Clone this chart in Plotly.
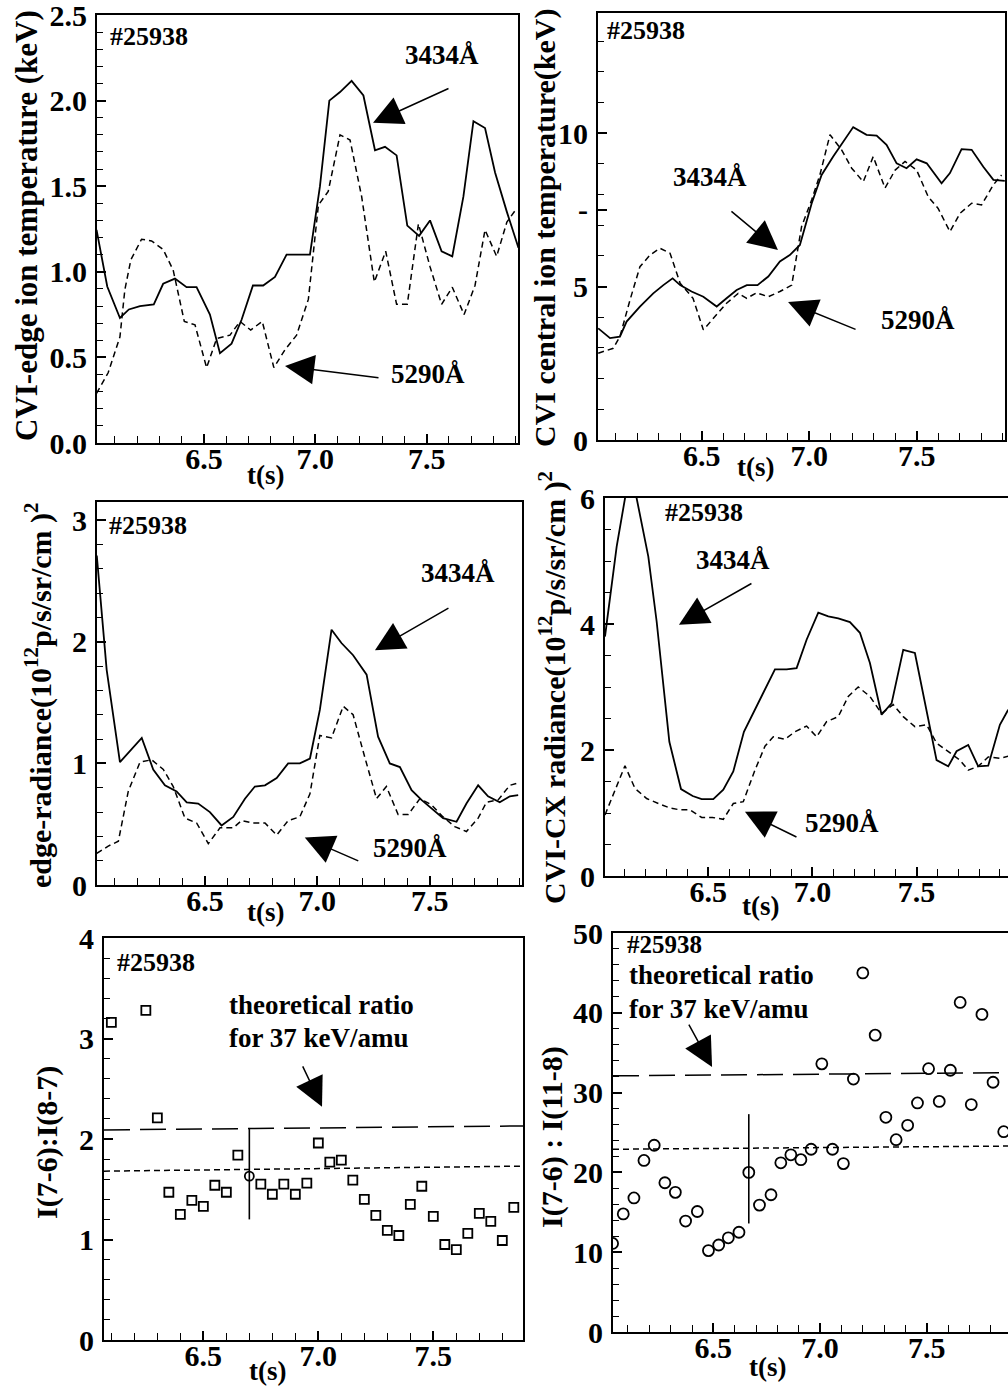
import plotly.graph_objects as go

W, H = 1008, 1386
FONT = "Liberation Serif"

# ---------------- DATA ----------------
# Panel 1: CVI-edge ion temperature (keV)
p1_t_solid = [6.018, 6.066, 6.123, 6.163, 6.213, 6.275, 6.317, 6.37, 6.422, 6.467, 6.527, 6.572, 6.624, 6.669,
              6.72, 6.766, 6.819, 6.871, 6.924, 6.976, 7.021, 7.063, 7.111, 7.163, 7.216, 7.268, 7.313, 7.365,
              7.413, 7.466, 7.515, 7.567, 7.615, 7.665, 7.71, 7.762, 7.807, 7.86, 7.912]
p1_solid = [1.245, 0.914, 0.73, 0.78, 0.80, 0.81, 0.93, 0.96, 0.91, 0.91, 0.75, 0.525, 0.58, 0.72,
            0.92, 0.92, 0.97, 1.10, 1.10, 1.10, 1.50, 2.00, 2.05, 2.115, 2.03, 1.71, 1.73, 1.68,
            1.27, 1.21, 1.30, 1.12, 1.09, 1.44, 1.88, 1.84, 1.58, 1.35, 1.14]
p1_t_dash = [6.018, 6.07, 6.123, 6.145, 6.172, 6.22, 6.265, 6.317, 6.362, 6.412, 6.46, 6.512, 6.557, 6.617,
             6.662, 6.71, 6.762, 6.814, 6.864, 6.916, 6.969, 7.014, 7.058, 7.111, 7.156, 7.208, 7.265, 7.316,
             7.365, 7.413, 7.463, 7.515, 7.567, 7.615, 7.668, 7.717, 7.762, 7.814, 7.86, 7.904]
p1_dash = [0.29, 0.41, 0.62, 0.895, 1.07, 1.19, 1.18, 1.13, 1.01, 0.71, 0.69, 0.44, 0.61, 0.63,
           0.71, 0.66, 0.71, 0.44, 0.545, 0.63, 0.84, 1.39, 1.47, 1.80, 1.77, 1.44, 0.94, 1.12,
           0.81, 0.81, 1.28, 1.03, 0.81, 0.91, 0.75, 0.92, 1.245, 1.09, 1.29, 1.37]

# Panel 2: CVI central ion temperature (keV)
p2_t_solid = [6.019, 6.074, 6.12, 6.151, 6.213, 6.275, 6.322, 6.365, 6.40, 6.453, 6.508, 6.57, 6.616, 6.663,
              6.71, 6.76, 6.81, 6.864, 6.91, 6.957, 7.012, 7.058, 7.112, 7.159, 7.205, 7.267, 7.314, 7.36,
              7.407, 7.453, 7.50, 7.547, 7.616, 7.655, 7.709, 7.756, 7.81, 7.857, 7.91]
p2_solid = [3.64, 3.32, 3.37, 3.86, 4.35, 4.78, 5.05, 5.27, 5.05, 4.84, 4.67, 4.35, 4.62, 4.89,
            5.05, 5.05, 5.33, 5.82, 6.03, 6.36, 7.72, 8.64, 9.24, 9.73, 10.2, 9.95, 9.92, 9.62,
            9.02, 8.86, 9.15, 9.02, 8.37, 8.70, 9.48, 9.46, 8.91, 8.48, 8.45]
p2_t_dash = [6.019, 6.089, 6.12, 6.167, 6.213, 6.26, 6.306, 6.353, 6.40, 6.46, 6.508, 6.554, 6.616, 6.67,
             6.71, 6.756, 6.81, 6.864, 6.919, 6.965, 7.012, 7.05, 7.097, 7.151, 7.198, 7.252, 7.298, 7.353,
             7.40, 7.446, 7.50, 7.554, 7.60, 7.655, 7.702, 7.756, 7.802, 7.857, 7.895]
p2_dash = [2.83, 2.99, 3.37, 4.57, 5.65, 6.03, 6.25, 6.09, 5.11, 4.62, 3.59, 3.97, 4.46, 4.78,
           4.62, 4.80, 4.67, 4.84, 5.05, 6.96, 7.83, 8.64, 9.95, 9.46, 8.86, 8.42, 9.24, 8.21,
           8.80, 9.08, 8.80, 7.93, 7.55, 6.79, 7.39, 7.72, 7.66, 8.32, 8.64]

# Panel 3: edge radiance
p3_t_solid = [6.019, 6.063, 6.122, 6.174, 6.219, 6.27, 6.322, 6.374, 6.419, 6.47, 6.522, 6.574, 6.626, 6.678,
              6.722, 6.767, 6.819, 6.87, 6.922, 6.967, 7.011, 7.063, 7.107, 7.159, 7.219, 7.27, 7.322, 7.367,
              7.419, 7.463, 7.515, 7.559, 7.619, 7.663, 7.715, 7.759, 7.811, 7.856, 7.893]
p3_solid = [2.71, 1.77, 1.01, 1.12, 1.21, 0.95, 0.82, 0.77, 0.68, 0.67, 0.60, 0.49, 0.56, 0.71,
            0.81, 0.82, 0.88, 1.00, 1.00, 1.04, 1.44, 2.10, 1.99, 1.89, 1.73, 1.22, 1.00, 0.97,
            0.78, 0.70, 0.62, 0.55, 0.52, 0.67, 0.82, 0.73, 0.68, 0.73, 0.74]
p3_t_dash = [6.019, 6.07, 6.115, 6.159, 6.211, 6.263, 6.315, 6.359, 6.411, 6.463, 6.515, 6.567, 6.626, 6.663,
             6.715, 6.767, 6.819, 6.87, 6.922, 6.967, 7.011, 7.063, 7.115, 7.159, 7.211, 7.263, 7.307, 7.359,
             7.404, 7.456, 7.507, 7.559, 7.611, 7.663, 7.715, 7.752, 7.804, 7.856, 7.893]
p3_dash = [0.26, 0.32, 0.36, 0.77, 1.01, 1.03, 0.95, 0.81, 0.55, 0.51, 0.34, 0.47, 0.47, 0.53,
           0.51, 0.51, 0.41, 0.53, 0.56, 0.75, 1.23, 1.21, 1.47, 1.40, 1.05, 0.71, 0.81, 0.58,
           0.58, 0.71, 0.66, 0.56, 0.48, 0.44, 0.55, 0.68, 0.70, 0.82, 0.84]

# Panel 4: CVI-CX radiance
p4_t_solid = [6.004, 6.06, 6.126, 6.212, 6.252, 6.313, 6.369, 6.425, 6.468, 6.524, 6.572, 6.62, 6.671, 6.724,
              6.772, 6.82, 6.876, 6.924, 6.972, 7.028, 7.076, 7.124, 7.18, 7.228, 7.276, 7.332, 7.38, 7.436,
              7.492, 7.54, 7.596, 7.652, 7.692, 7.748, 7.796, 7.844, 7.90, 7.94]
p4_solid = [3.80, 5.23, 6.49, 5.07, 4.04, 2.13, 1.38, 1.27, 1.22, 1.22, 1.37, 1.66, 2.29, 2.64,
            2.96, 3.28, 3.28, 3.30, 3.75, 4.18, 4.12, 4.09, 4.03, 3.86, 3.38, 2.56, 2.74, 3.59,
            3.54, 2.74, 1.84, 1.74, 1.98, 2.08, 1.74, 1.75, 2.40, 2.64]
p4_t_dash = [6.004, 6.052, 6.10, 6.148, 6.204, 6.26, 6.316, 6.364, 6.412, 6.468, 6.52, 6.572, 6.62, 6.668,
             6.724, 6.772, 6.812, 6.868, 6.916, 6.972, 7.02, 7.068, 7.124, 7.172, 7.22, 7.276, 7.332, 7.388,
             7.436, 7.492, 7.548, 7.596, 7.644, 7.708, 7.748, 7.796, 7.844, 7.90, 7.94]
p4_dash = [0.97, 1.37, 1.75, 1.39, 1.23, 1.15, 1.08, 1.05, 1.05, 0.93, 0.93, 0.90, 1.15, 1.18,
           1.68, 2.06, 2.21, 2.17, 2.29, 2.38, 2.21, 2.45, 2.53, 2.85, 3.00, 2.85, 2.58, 2.72,
           2.53, 2.37, 2.40, 2.11, 2.00, 1.84, 1.68, 1.74, 1.89, 1.87, 1.90]

# Panel 5: I(7-6):I(8-7) ratio
p5_t = [6.10, 6.25, 6.30, 6.35, 6.40, 6.45, 6.50, 6.55, 6.60, 6.65, 6.75, 6.80, 6.85, 6.90, 6.95,
        7.00, 7.05, 7.10, 7.15, 7.20, 7.25, 7.30, 7.35, 7.40, 7.45, 7.50, 7.55, 7.60, 7.65, 7.70,
        7.75, 7.80, 7.85]
p5_ratio = [3.16, 3.28, 2.21, 1.47, 1.25, 1.39, 1.33, 1.54, 1.47, 1.84, 1.55, 1.45, 1.55, 1.45, 1.56,
            1.96, 1.77, 1.79, 1.59, 1.40, 1.24, 1.09, 1.04, 1.35, 1.53, 1.23, 0.95, 0.90, 1.06, 1.26,
            1.18, 0.99, 1.32]
p5_err_t = [6.70]
p5_err_val = [1.63]
p5_err_plus = [0.48]
p5_err_minus = [0.43]
p5_theory_t = [6.068, 7.89]
p5_theory_long = [2.09, 2.13]
p5_theory_short = [1.68, 1.73]

# Panel 6: I(7-6):I(11-8) ratio
p6_t = [6.028, 6.078, 6.128, 6.175, 6.223, 6.273, 6.322, 6.37, 6.425, 6.477, 6.525, 6.57, 6.62,
        6.716, 6.77, 6.816, 6.863, 6.91, 6.958, 7.008, 7.058, 7.109, 7.156, 7.20, 7.258, 7.308,
        7.356, 7.41, 7.456, 7.508, 7.558, 7.61, 7.656, 7.708, 7.758, 7.81, 7.86]
p6_ratio = [11.1, 14.8, 16.8, 21.5, 23.4, 18.7, 17.5, 13.9, 15.1, 10.2, 10.9, 11.8, 12.5,
            15.9, 17.2, 21.2, 22.2, 21.6, 22.9, 33.6, 22.9, 21.1, 31.7, 45.0, 37.2, 26.9,
            24.1, 25.9, 28.7, 33.0, 28.9, 32.8, 41.3, 28.5, 39.8, 31.3, 25.1]
p6_err_t = [6.666]
p6_err_val = [20.0]
p6_err_plus = [7.3]
p6_err_minus = [6.4]
p6_theory_t = [6.03, 7.88]
p6_theory_long = [32.1, 32.5]
p6_theory_short = [22.9, 23.3]

# ---------------- LAYOUT HELPERS ----------------
def xdom(a, b):
    return [a / W, min(b / W, 1.0)]

def ydom(top, bottom):
    return [1 - bottom / H, 1 - top / H]

def px(x):
    return x / W

def py(y):
    return 1 - y / H

tickfont = dict(family=FONT, size=30, color="black", weight="bold")

def xaxis_cfg(dom, rng, anchor):
    return dict(domain=dom, range=rng, anchor=anchor, showgrid=False, zeroline=False, automargin=False,
                showline=True, linecolor="black", linewidth=2, mirror=True,
                ticks="inside", ticklen=9, tickwidth=1.5, tickcolor="black",
                tickmode="array", tickvals=[6.5, 7.0, 7.5], ticktext=["6.5", "7.0", "7.5"],
                minor=dict(tickmode="linear", tick0=6.0, dtick=0.1, ticks="inside", ticklen=7,
                           tickwidth=1.3, tickcolor="black"),
                tickfont=tickfont, ticklabelstandoff=-12, ticklabeloverflow="allow")

def yaxis_cfg(dom, rng, anchor, tickvals, ticktext, minor_dtick, mirror=True):
    return dict(domain=dom, range=rng, anchor=anchor, showgrid=False, zeroline=False, automargin=False,
                showline=True, linecolor="black", linewidth=2, mirror=mirror,
                ticks="inside", ticklen=9, tickwidth=1.5, tickcolor="black",
                tickmode="array", tickvals=tickvals, ticktext=ticktext,
                minor=dict(tickmode="linear", tick0=0, dtick=minor_dtick, ticks="inside", ticklen=6,
                           tickwidth=1.2, tickcolor="black"),
                tickfont=tickfont, ticklabelstandoff=2, ticklabeloverflow="allow")

fig = go.Figure()

solid = dict(color="black", width=1.8)
dashed = dict(color="black", width=1.5, dash="6px,4px")

def add_pair(ts, vs, td, vd, xa, ya):
    fig.add_trace(go.Scatter(x=ts, y=vs, mode="lines", line=solid, xaxis=xa, yaxis=ya, showlegend=False))
    fig.add_trace(go.Scatter(x=td, y=vd, mode="lines", line=dashed, xaxis=xa, yaxis=ya, showlegend=False))

add_pair(p1_t_solid, p1_solid, p1_t_dash, p1_dash, "x", "y")
add_pair(p2_t_solid, p2_solid, p2_t_dash, p2_dash, "x2", "y2")
add_pair(p3_t_solid, p3_solid, p3_t_dash, p3_dash, "x3", "y3")
add_pair(p4_t_solid, p4_solid, p4_t_dash, p4_dash, "x4", "y4")

# Panel 5
fig.add_trace(go.Scatter(x=p5_theory_t, y=p5_theory_long, mode="lines", xaxis="x5", yaxis="y5",
                         line=dict(color="black", width=1.5, dash="26px,10px"), showlegend=False))
fig.add_trace(go.Scatter(x=p5_theory_t, y=p5_theory_short, mode="lines", xaxis="x5", yaxis="y5",
                         line=dict(color="black", width=1.5, dash="6px,4px"), showlegend=False))
fig.add_trace(go.Scatter(x=p5_t, y=p5_ratio, mode="markers", xaxis="x5", yaxis="y5",
                         marker=dict(symbol="square-open", size=9, color="black", line=dict(width=1.8)),
                         showlegend=False))
fig.add_trace(go.Scatter(x=p5_err_t, y=p5_err_val, mode="markers", xaxis="x5", yaxis="y5",
                         marker=dict(symbol="circle-open", size=9, color="black", line=dict(width=1.8)),
                         error_y=dict(type="data", symmetric=False, array=p5_err_plus,
                                      arrayminus=p5_err_minus, width=0, thickness=1.6, color="black"),
                         showlegend=False))

# Panel 6
fig.add_trace(go.Scatter(x=p6_theory_t, y=p6_theory_long, mode="lines", xaxis="x6", yaxis="y6",
                         line=dict(color="black", width=1.5, dash="26px,10px"), showlegend=False))
fig.add_trace(go.Scatter(x=p6_theory_t, y=p6_theory_short, mode="lines", xaxis="x6", yaxis="y6",
                         line=dict(color="black", width=1.5, dash="6px,4px"), showlegend=False))
fig.add_trace(go.Scatter(x=p6_t, y=p6_ratio, mode="markers", xaxis="x6", yaxis="y6",
                         marker=dict(symbol="circle-open", size=11, color="black", line=dict(width=1.8)),
                         showlegend=False))
fig.add_trace(go.Scatter(x=p6_err_t, y=p6_err_val, mode="markers", xaxis="x6", yaxis="y6",
                         marker=dict(symbol="circle-open", size=11, color="black", line=dict(width=1.8)),
                         error_y=dict(type="data", symmetric=False, array=p6_err_plus,
                                      arrayminus=p6_err_minus, width=0, thickness=1.6, color="black"),
                         showlegend=False))

fig.update_layout(
    template="none",
    width=W, height=H, margin=dict(l=0, r=0, t=0, b=0, pad=0, autoexpand=False),
    paper_bgcolor="white", plot_bgcolor="white",
    font=dict(family=FONT, color="black"),
    xaxis=xaxis_cfg(xdom(97, 518), [6.02, 7.91], "y"),
    yaxis=yaxis_cfg(ydom(15, 443), [0, 2.5], "x", [0, 0.5, 1.0, 1.5, 2.0, 2.5],
                    ["0.0", "0.5", "1.0", "1.5", "2.0", "2.5"], 0.1),
    xaxis2=xaxis_cfg(xdom(598, 1005), [6.018, 7.911], "y2"),
    yaxis2=yaxis_cfg(ydom(13, 440), [0, 13.92], "x2", [0, 5, 7.5, 10], ["0", "5", "-", "10"], 1),
    xaxis3=xaxis_cfg(xdom(97, 522), [6.02, 7.91], "y3"),
    yaxis3=yaxis_cfg(ydom(502, 885), [0, 3.15], "x3", [0, 1, 2, 3], ["0", "1", "2", "3"], 0.2),
    xaxis4=xaxis_cfg(xdom(605, 1008), [6.004, 7.939], "y4"),
    yaxis4=yaxis_cfg(ydom(498, 876), [0, 6], "x4", [0, 2, 4, 6], ["0", "2", "4", "6"], 0.5, mirror=False),
    xaxis5=xaxis_cfg(xdom(104, 523), [6.068, 7.89], "y5"),
    yaxis5=yaxis_cfg(ydom(938, 1340), [0, 4], "x5", [0, 1, 2, 3, 4], ["0", "1", "2", "3", "4"], 0.2),
    xaxis6=xaxis_cfg(xdom(613, 1008), [6.03, 7.88], "y6"),
    yaxis6=yaxis_cfg(ydom(933, 1332), [0, 50], "x6", [0, 10, 20, 30, 40, 50],
                     ["0", "10", "20", "30", "40", "50"], 2, mirror=False),
)

ann = []
bold = dict(family=FONT, color="black", weight="bold")

def text(x, y, s, size=26, xanchor="center", angle=0):
    ann.append(dict(xref="paper", yref="paper", x=px(x), y=py(y), text=s, showarrow=False,
                    xanchor=xanchor, yanchor="middle", textangle=angle, font=dict(size=size, **bold)))

def arrow(xa, ya, t, v, ax, ay):
    ann.append(dict(xref=xa, yref=ya, x=t, y=v, ax=ax, ay=ay, text="", showarrow=True,
                    arrowhead=2, arrowsize=3.9, arrowwidth=1.5, arrowcolor="black", standoff=0))

# shot numbers
text(108, 37, "#25938", xanchor="left")
text(605, 30, "#25938", xanchor="left")
text(107, 525, "#25938", xanchor="left")
text(663, 513, "#25938", xanchor="left")
text(115, 962, "#25938", xanchor="left")
text(625, 945, "#25938", 25, xanchor="left")

# wavelength labels
text(442, 55, "3434Å", 27)
text(428, 374, "5290Å", 27)
text(710, 177, "3434Å", 27)
text(918, 320, "5290Å", 27)
text(458, 573, "3434Å", 27)
text(410, 848, "5290Å", 27)
text(733, 560, "3434Å", 27)
text(842, 823, "5290Å", 27)

# theoretical ratio labels
text(227, 1005, "theoretical ratio", 27, xanchor="left")
text(227, 1038, "for 37 keV/amu", 27, xanchor="left")
text(627, 975, "theoretical ratio", 27, xanchor="left")
text(627, 1009, "for 37 keV/amu", 27, xanchor="left")

# arrows
arrow("x", "y", 7.259, 1.87, 77, -35)
arrow("x", "y", 6.864, 0.45, 95, 12)
arrow("x2", "y2", 6.855, 6.19, -48, -40)
arrow("x2", "y2", 6.902, 4.5, 69, 28)
arrow("x3", "y3", 7.256, 1.93, 75, -43)
arrow("x3", "y3", 6.944, 0.39, 55, 24)
arrow("x4", "y4", 6.359, 3.99, 74, -42)
arrow("x4", "y4", 6.676, 1.02, 53, 26)
arrow("x5", "y5", 7.016, 2.32, -20, -42)
arrow("x6", "y6", 6.494, 33.2, -24, -44)

# x titles
for (x, y) in [(265, 475), (755, 467), (265, 912), (760, 906), (267, 1371), (767, 1367)]:
    text(x, y, "t(s)", 27)

# y titles
text(26, 226, "CVI-edge ion temperature (keV)", 31, angle=-90)
text(545, 228, "CVI central ion temperature(keV)", 30, angle=-90)
text(38, 695, "edge-radiance(10<sup>12</sup>p/s/sr/cm )<sup>2</sup>", 30, angle=-90)
text(552, 688, "CVI-CX radiance(10<sup>12</sup>p/s/sr/cm )<sup>2</sup>", 30, angle=-90)
text(47, 1143, "I(7-6):I(8-7)", 30, angle=-90)
text(552, 1137, "I(7-6) : I(11-8)", 30, angle=-90)

fig.update_layout(annotations=ann)
fig.write_html("out.html")
